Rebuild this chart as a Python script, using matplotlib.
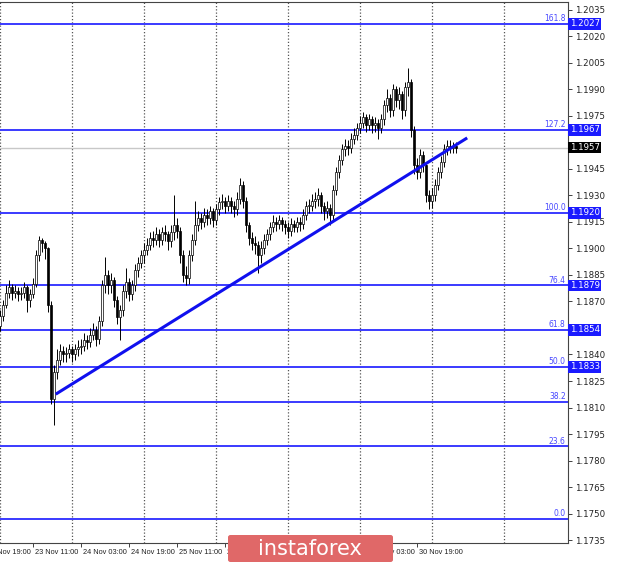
import matplotlib.pyplot as plt
import matplotlib.transforms as mtransforms
from matplotlib.patches import FancyBboxPatch
import numpy as np

# EUR/USD H1, bar 0 = 23 Nov 00:00
first_open = 1.1856
closes = [
    1.1862, 1.1868, 1.1875, 1.1878, 1.1875, 1.1876, 1.1874, 1.1875, 1.1878, 1.1871,
    1.1874, 1.1880, 1.1896, 1.1905, 1.1903, 1.1900, 1.1868, 1.1815, 1.1830, 1.1837,
    1.1842, 1.1840, 1.1841, 1.1843, 1.1840, 1.1843, 1.1844, 1.1845, 1.1848, 1.1847,
    1.1851, 1.1854, 1.1849, 1.1859, 1.1879, 1.1885, 1.1879, 1.1882, 1.1871, 1.1861,
    1.1865, 1.1876, 1.1881, 1.1874, 1.1879, 1.1888, 1.1892, 1.1896, 1.1899, 1.1902,
    1.1906, 1.1905, 1.1908, 1.1905, 1.1909, 1.1908, 1.1904, 1.1909, 1.1913, 1.1910,
    1.1896, 1.1885, 1.1883, 1.1896, 1.1905, 1.1913, 1.1917, 1.1915, 1.1919, 1.1917,
    1.1921, 1.1916, 1.1922, 1.1926, 1.1927, 1.1924, 1.1927, 1.1924, 1.1922, 1.1928,
    1.1936, 1.1927, 1.1913, 1.1906, 1.1903, 1.1902, 1.1896, 1.1900, 1.1905, 1.1908,
    1.1912, 1.1915, 1.1914, 1.1916, 1.1914, 1.1912, 1.1910, 1.1914, 1.1912, 1.1915,
    1.1914, 1.1919, 1.1924, 1.1924, 1.1927, 1.1928, 1.1930, 1.1924, 1.1921, 1.1923,
    1.1919, 1.1933, 1.1943, 1.1950, 1.1956, 1.1958, 1.1957, 1.1962, 1.1964, 1.1968,
    1.1971, 1.1974, 1.1970, 1.1973, 1.1970, 1.1971, 1.1968, 1.1973, 1.1981, 1.1985,
    1.1978, 1.1990, 1.1984, 1.1987, 1.1978, 1.1991, 1.1994, 1.1967, 1.1947, 1.1943,
    1.1953, 1.1947, 1.1930, 1.1927, 1.1930, 1.1936, 1.1943, 1.1949, 1.1956, 1.1958,
    1.1957, 1.1958, 1.1957]
highs = [
    1.1865, 1.1871, 1.1879, 1.1882, 1.1880, 1.1879, 1.1878, 1.1878, 1.1881, 1.1879,
    1.1877, 1.1883, 1.1899, 1.1907, 1.1906, 1.1904, 1.1901, 1.1870, 1.1834, 1.1843,
    1.1846, 1.1845, 1.1844, 1.1846, 1.1845, 1.1846, 1.1848, 1.1849, 1.1852, 1.1851,
    1.1855, 1.1858, 1.1856, 1.1862, 1.1882, 1.1895, 1.1888, 1.1886, 1.1884, 1.1873,
    1.1868, 1.1879, 1.1889, 1.1883, 1.1882, 1.1891, 1.1895, 1.1899, 1.1903, 1.1906,
    1.1909, 1.1910, 1.1912, 1.1911, 1.1912, 1.1913, 1.1910, 1.1913, 1.1930, 1.1917,
    1.1912, 1.1899, 1.1890, 1.1899, 1.1908, 1.1927, 1.1921, 1.1920, 1.1923, 1.1922,
    1.1924, 1.1923, 1.1925, 1.1929, 1.1931, 1.1929, 1.1930, 1.1929, 1.1927, 1.1932,
    1.1940, 1.1938, 1.1929, 1.1915, 1.1909, 1.1907, 1.1904, 1.1904, 1.1908, 1.1911,
    1.1915, 1.1919, 1.1918, 1.1919, 1.1918, 1.1916, 1.1915, 1.1917, 1.1916, 1.1918,
    1.1918, 1.1922, 1.1927, 1.1928, 1.1931, 1.1932, 1.1934, 1.1932, 1.1926, 1.1927,
    1.1925, 1.1936, 1.1946, 1.1953, 1.1959, 1.1962, 1.1961, 1.1965, 1.1968, 1.1971,
    1.1975, 1.1977, 1.1976, 1.1976, 1.1975, 1.1974, 1.1973, 1.1976, 1.1984, 1.1990,
    1.1987, 1.1993, 1.1992, 1.1991, 1.1989, 1.1994, 1.2002, 1.1996, 1.1969, 1.1951,
    1.1956, 1.1955, 1.1949, 1.1933, 1.1934, 1.1939, 1.1946, 1.1952, 1.1959, 1.1961,
    1.1961, 1.1960, 1.1960]
lows = [
    1.1853, 1.1859, 1.1866, 1.1872, 1.1871, 1.1872, 1.1870, 1.1871, 1.1872, 1.1864,
    1.1867, 1.1872, 1.1878, 1.1893, 1.1898, 1.1894, 1.1864, 1.1812, 1.1800, 1.1826,
    1.1834, 1.1836, 1.1836, 1.1838, 1.1836, 1.1837, 1.1839, 1.1840, 1.1842, 1.1843,
    1.1844, 1.1848, 1.1845, 1.1846, 1.1856, 1.1875, 1.1874, 1.1875, 1.1867, 1.1857,
    1.1848, 1.1862, 1.1872, 1.1870, 1.1871, 1.1876, 1.1884, 1.1889, 1.1892, 1.1896,
    1.1899, 1.1901, 1.1902, 1.1901, 1.1902, 1.1904, 1.1899, 1.1901, 1.1905, 1.1906,
    1.1892, 1.1881, 1.1879, 1.1880, 1.1893, 1.1902, 1.1910, 1.1911, 1.1912, 1.1913,
    1.1914, 1.1912, 1.1913, 1.1919, 1.1922, 1.1920, 1.1921, 1.1920, 1.1918, 1.1919,
    1.1925, 1.1923, 1.1909, 1.1902, 1.1899, 1.1897, 1.1886, 1.1892, 1.1897, 1.1902,
    1.1905, 1.1909, 1.1910, 1.1911, 1.1910, 1.1908, 1.1906, 1.1907, 1.1909, 1.1909,
    1.1910, 1.1911, 1.1916, 1.1920, 1.1921, 1.1923, 1.1924, 1.1920, 1.1916, 1.1917,
    1.1913, 1.1916, 1.1930, 1.1940, 1.1947, 1.1952, 1.1953, 1.1954, 1.1959, 1.1961,
    1.1965, 1.1968, 1.1966, 1.1967, 1.1965, 1.1966, 1.1962, 1.1965, 1.1970, 1.1977,
    1.1974, 1.1975, 1.1980, 1.1979, 1.1973, 1.1975, 1.1986, 1.1963, 1.1942, 1.1939,
    1.1940, 1.1943, 1.1926, 1.1922, 1.1923, 1.1927, 1.1933, 1.1940, 1.1946, 1.1953,
    1.1954, 1.1954, 1.1954]

fib_pct = ["0.0", "23.6", "38.2", "50.0", "61.8", "76.4", "100.0", "127.2", "161.8"]
fib_price = [1.1747, 1.1788, 1.1813, 1.1833, 1.1854, 1.1879, 1.1920, 1.1967, 1.2027]
fib_boxed = [False, False, False, True, True, True, True, True, True]
last_price = 1.1957
trend_x = [19, 155.3]
trend_y = [1.1818, 1.1962]

xtick_bars = [-5, 11, 27, 43, 59, 75, 91, 107, 123, 139]
xtick_labels = ["20 Nov 19:00", "23 Nov 11:00", "24 Nov 03:00", "24 Nov 19:00", "25 Nov 11:00",
                "26 Nov 03:00", "26 Nov 19:00", "27 Nov 11:00", "30 Nov 03:00", "30 Nov 19:00"]
day_bars = [0, 24, 48, 72, 96, 120, 144, 168]
ytick_vals = [1.1735, 1.1750, 1.1765, 1.1780, 1.1795, 1.1810, 1.1825, 1.1840, 1.1870,
              1.1885, 1.1900, 1.1915, 1.1930, 1.1945, 1.1975, 1.1990, 1.2005, 1.2020, 1.2035]

opens = [first_open] + closes[:-1]
idx = np.arange(len(closes))

fig = plt.figure(figsize=(6.2, 5.63), dpi=100)
ax = fig.add_axes([0, 1 - 543 / 563, 568 / 620, 541 / 563])

for d in day_bars:
    ax.axvline(d, color="#555555", linestyle=(0, (1, 1.6)), linewidth=0.9, zorder=1)

for p, pct in zip(fib_price, fib_pct):
    ax.axhline(p, color="#3a3aff", linewidth=1.4, zorder=2)
    ax.text(0.996, p + 0.00005, pct, transform=mtransforms.blended_transform_factory(ax.transAxes, ax.transData),
            ha="right", va="bottom", fontsize=5.5, color="#4848ff")
ax.axhline(last_price, color="#c8c8c8", linewidth=1, zorder=2)

for i, o, h, l, c in zip(idx, opens, highs, lows, closes):
    ax.vlines(i, l, h, color="black", linewidth=0.7, zorder=3)
    bottom = min(o, c)
    height = max(abs(c - o), 0.00004)
    fc = "white" if c >= o else "black"
    ax.bar(i, height, bottom=bottom, width=0.7, facecolor=fc, edgecolor="black", linewidth=0.5, zorder=4)

ax.plot(trend_x, trend_y, color="#1010ee", linewidth=2.2, zorder=5)

ax.yaxis.tick_right()
ax.set_yticks(ytick_vals)
ax.set_yticklabels(["%.4f" % v for v in ytick_vals])
ax.tick_params(axis="y", direction="out", length=3, width=0.6, labelsize=6.2, colors="#222222", pad=2)
ax.set_xticks(xtick_bars)
ax.set_xticklabels([])
ax.tick_params(axis="x", direction="out", length=3, width=0.6, colors="#222222")
# limits after ticks, so the off-screen tick does not widen the view
ax.set_xlim(0, 568 / 3)
ax.set_ylim(1.17334, 1.20393)
for b, lab in zip(xtick_bars, xtick_labels):
    ax.text(b + 0.8, -0.012, lab, transform=mtransforms.blended_transform_factory(ax.transData, ax.transAxes),
            ha="left", va="top", fontsize=5.3, family="Liberation Sans", color="#222222", clip_on=False)

ax.spines["left"].set_visible(False)
for s in ["top", "right", "bottom"]:
    ax.spines[s].set_color("#444444")
    ax.spines[s].set_linewidth(0.8)

# price boxes on the right scale
yt = mtransforms.blended_transform_factory(ax.transAxes, ax.transData)
for p, boxed in zip(fib_price, fib_boxed):
    if boxed:
        ax.text(1.003, p, "%.4f" % p, transform=yt, ha="left", va="center", fontsize=6.2, color="white",
                bbox=dict(boxstyle="square,pad=0.15", facecolor="#1a1aff", edgecolor="none"), zorder=10, clip_on=False)
ax.text(1.003, last_price, "%.4f" % last_price, transform=yt, ha="left", va="center", fontsize=6.2, color="white",
        bbox=dict(boxstyle="square,pad=0.15", facecolor="black", edgecolor="none"), zorder=10, clip_on=False)

wm = FancyBboxPatch((228 / 620, 1 / 563), 165 / 620, 27 / 563, boxstyle="round,pad=0,rounding_size=0.004",
                    transform=fig.transFigure, facecolor="#e06868", edgecolor="none", zorder=20)
fig.patches.append(wm)
fig.text(310 / 620, 14 / 563, "instaforex", ha="center", va="center", fontsize=15, color="white", zorder=21)

fig.savefig("out.png", dpi=100)
